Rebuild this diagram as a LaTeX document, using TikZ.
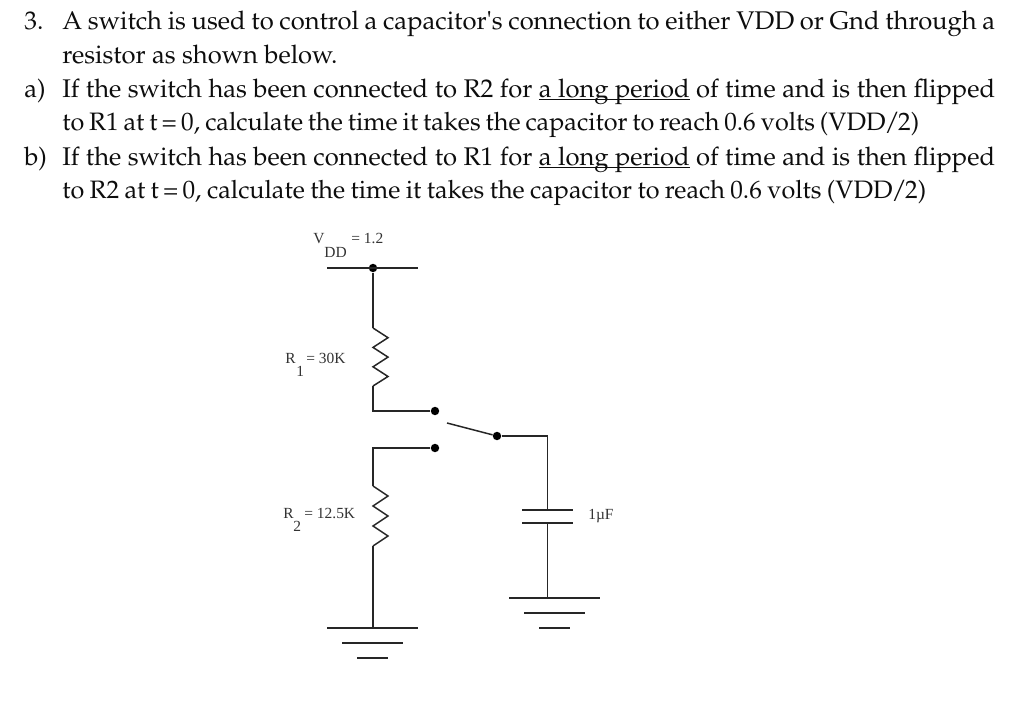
\documentclass[tikz,border=0pt]{standalone}
\usepackage[T1]{fontenc}
\usepackage{textcomp}
\usepackage{fontspec}
\newfontfamily\labelfont{Liberation Serif}
\newcommand\questfont{\usefont{T1}{ppl}{m}{n}\fontsize{14.55}{17}\selectfont}
\newcommand\longper{\underline{\smash{a long period}}}
\newcommand\vddhalf{(VDD\kern-.5pt/\kern-1pt2)}
\newcommand\tightline{\fontsize{14.35}{17}\selectfont}
\tikzset{
  wire/.style={line width=1pt,color=black!85},
  zig/.style={line width=.85pt,color=black!85},
  dot/.style={circle,fill=black,inner sep=0pt,minimum size=4.8pt},
  quest/.style={anchor=base west,inner sep=0pt,font=\questfont,color=black!95},
  lab/.style={anchor=base west,inner sep=0pt,font=\labelfont\fontsize{8.8}{10}\selectfont,color=black!80}
}
\begin{document}
\begin{tikzpicture}[x=.02cm,y=-.02cm]
\useasboundingbox (0,0) rectangle (1024,723);
\node[quest] (n3) at (24,30) {3.};
\node[quest] (l1) at (62,30) {\hbox to 18.66cm{A switch is used to control a capacitor\textquotesingle s connection to either VDD or Gnd through a}};
\node[quest] (l2) at (62,64) {resistor as shown below.};
\node[quest] (na) at (24,97) {a)};
\node[quest] (l3) at (62,97) {\hbox to 18.66cm{If the switch has been connected to R2 for \longper{} of time and is then flipped}};
\node[quest] (l4) at (62,131) {\tightline\hbox to 17.14cm{to R1 at t\,=\,0, calculate the time it takes the capacitor to reach 0.6 volts \vddhalf}};
\node[quest] (nb) at (24,165) {b)};
\node[quest] (l5) at (62,165) {\hbox to 18.66cm{If the switch has been connected to R1 for \longper{} of time and is then flipped}};
\node[quest] (l6) at (62,198) {\tightline\hbox to 17.28cm{to R2 at t\,=\,0, calculate the time it takes the capacitor to reach 0.6 volts \vddhalf}};
\node[lab] (vv) at (313,243) {V};
\node[lab] (vd) at (324,257) {DD};
\node[lab] (ve) at (351,243) {= 1.2};
\node[lab] (r1a) at (285,363) {R};
\node[lab] (r1b) at (296,376) {1};
\node[lab] (r1c) at (306,363) {= 30K};
\node[lab] (r2a) at (283,518) {R};
\node[lab] (r2b) at (293,531) {2};
\node[lab] (r2c) at (304,518) {= 12.5K};
\node[lab] (cl) at (588,519) {1µF};
\node[dot] (vdd) at (373,268) {};
\node[dot] (s1) at (435,411) {};
\node[dot] (s2) at (435,448) {};
\node[dot] (sw) at (497,436) {};
\coordinate (vl) at (327,268);
\coordinate (vr) at (418,268);
\coordinate (ra) at (373,328);
\coordinate (rb) at (373,386);
\coordinate (rc) at (373,486);
\coordinate (rd) at (373,546);
\coordinate (g1) at (373,628);
\coordinate (g2) at (547.5,598);
\coordinate (ct) at (547.5,510);
\coordinate (cb) at (547.5,523);
\coordinate (st) at (447,423);
\draw[wire] (vl)--(vr) (vdd)--(ra) (rb)|-(s1) (s2)-|(rc) (rd)--(g1);
\draw[zig] (ra)--++(15,9.7)--++(-15,9.7)--++(15,9.7)--++(-15,9.7)--++(15,9.7)--(rb);
\draw[zig] (rc)--++(15,10)--++(-15,10)--++(15,10)--++(-15,10)--++(15,10)--(rd);
\draw[zig] (st)--(sw);
\draw[wire] (sw)-|(ct) (cb)--(g2);
\draw[wire] (522,510)--(573,510) (522,523)--(573,523);
\draw[wire] (327,628)--(418,628) (342,643)--(403,643) (357,658)--(388,658);
\draw[wire] (509,598)--(600,598) (524,613)--(585,613) (539,628)--(570,628);
\end{tikzpicture}
\end{document}
